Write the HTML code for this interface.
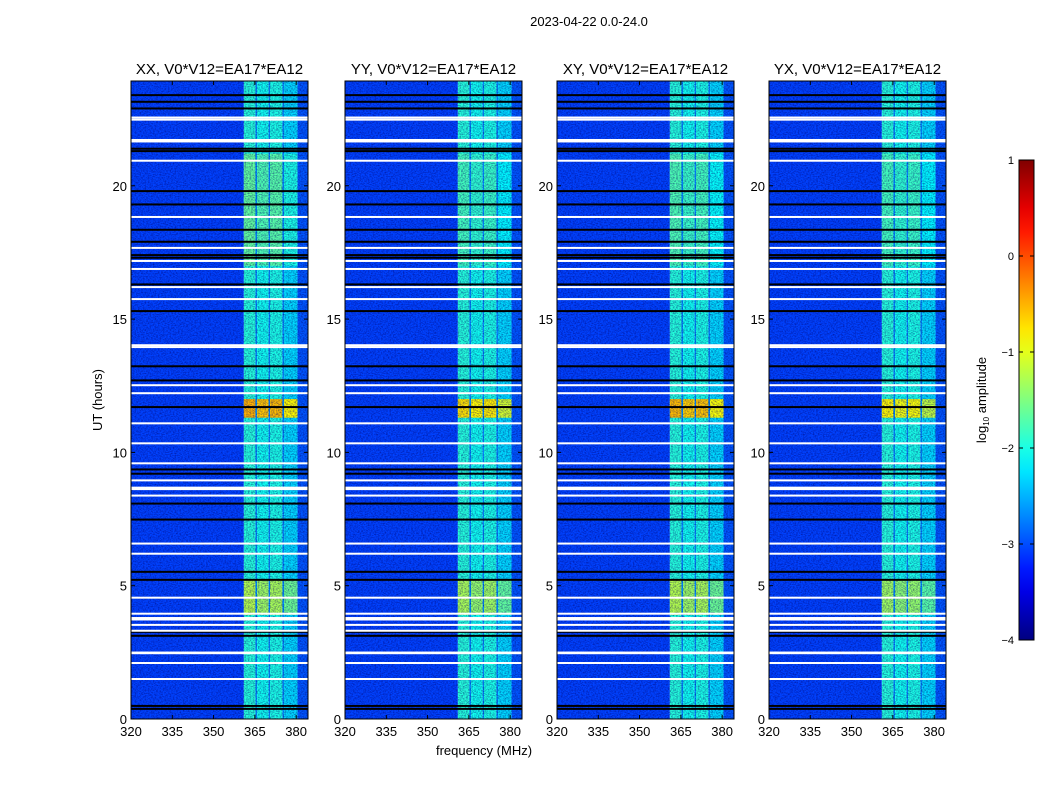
<!DOCTYPE html>
<html><head><meta charset="utf-8"><style>
body{margin:0;background:#fff;}
svg{display:block;font-family:"Liberation Sans",sans-serif;}
</style></head><body>
<svg id="fig" width="1050" height="800"></svg>
<script>
// ---- data ----
const panelTitles = ["XX, V0*V12=EA17*EA12","YY, V0*V12=EA17*EA12","XY, V0*V12=EA17*EA12","YX, V0*V12=EA17*EA12"];
const freqTicks = [320,335,350,365,380];
const timeTicks = [0,5,10,15,20];
const cbarTicks = [1,0,-1,-2,-3,-4];
// frequency segments (MHz edges) and their baseline log10 amplitude
const segEdges = [320,361,365.2,365.8,370,370.5,375,375.6,380.5,384.3];
const segAmp   = [-3.05,-1.95,-2.7,-2.05,-2.7,-2.0,-2.7,-2.3,-2.95];
// time intervals (hours) with amplitude boost inside the band, per panel
const hotStart = [11.3,3.9,17.0];
const hotEnd   = [12.0,5.2,21.2];
const hotBoost = [[1.45,0.7,0.3],[1.2,0.65,0.15],[1.4,0.7,0.2],[1.1,0.6,0.15]];
// flagged (white) rows: time, thickness (hours)
const flagT = [22.56,22.48,21.69,20.94,18.83,17.67,17.18,16.88,16.2,15.75,14.02,13.95,12.52,12.22,11.09,10.34,9.59,8.95,8.65,8.38,6.58,6.2,4.55,3.95,3.76,3.53,3.31,2.48,2.1,1.5];
const flagW = [0.04,0.04,0.13,0.04,0.04,0.04,0.04,0.04,0.04,0.04,0.04,0.04,0.06,0.04,0.04,0.04,0.04,0.04,0.13,0.04,0.04,0.04,0.04,0.04,0.13,0.04,0.04,0.1,0.04,0.06];
// dark (black) rows
const darkT = [23.4,23.15,22.9,21.39,21.3,19.8,19.3,18.35,17.9,17.4,17.3,16.3,15.3,13.23,12.7,11.7,9.36,9.2,8.08,7.48,5.52,5.22,3.27,3.12,0.49,0.38];

// ---- layout ----
const svg = document.getElementById('fig');
const NS = 'http://www.w3.org/2000/svg';
const panelX = [131,345,557,769], PW = 177, PT = 81, PB = 719;
const fMin = 320, fMax = 384.3, tMax = 23.93;
function mk(tag, attrs, parent){const e=document.createElementNS(NS,tag);for(const k in attrs)e.setAttribute(k,attrs[k]);(parent||svg).appendChild(e);return e;}
function jet(v){v=Math.max(0,Math.min(1,v));const c=x=>Math.round(255*Math.max(0,Math.min(1,x)));
  return `rgb(${c(1.5-Math.abs(4*v-3))},${c(1.5-Math.abs(4*v-2))},${c(1.5-Math.abs(4*v-1))})`;}
function amp2c(a){return jet((a+4)/5);}

const defs=mk('defs',{});
const flt=mk('filter',{id:'speckle',x:0,y:0,width:'100%',height:'100%'},defs);
mk('feTurbulence',{type:'fractalNoise',baseFrequency:'0.6 0.9',numOctaves:2,seed:3},flt);
mk('feColorMatrix',{type:'matrix',values:'0 0 0 0 0  0 0 0 0 0  0 0 0 0 0.15  1.2 0 0 0 -0.45'},flt);

mk('text',{x:589,y:26,'font-size':13,'text-anchor':'middle',}).textContent='2023-04-22 0.0-24.0';

panelX.forEach((px,pi)=>{
  const xs = f => px + (f-fMin)/(fMax-fMin)*PW;
  const ys = t => PB - t/tMax*(PB-PT);
  const g = mk('g',{});
  
  
  const clipId='clip'+pi;
  const cp=mk('clipPath',{id:clipId},defs); mk('rect',{x:px,y:PT,width:PW,height:PB-PT},cp);
  const body=mk('g',{'clip-path':`url(#${clipId})`},g);
  for(let s=0;s<segAmp.length;s++){
    const x0=xs(segEdges[s]), x1=xs(segEdges[s+1]);
    const r=mk('rect',{x:x0,y:PT,width:x1-x0,height:PB-PT,fill:amp2c(segAmp[s])},body);
    
    
    if(segAmp[s]>-2.6){
      for(let h=0;h<hotStart.length;h++){
        const a=segAmp[s]+hotBoost[pi][h];
        const hr=mk('rect',{x:x0,y:ys(hotEnd[h]),width:x1-x0,height:ys(hotStart[h])-ys(hotEnd[h]),fill:amp2c(a)},body);
        
        
      }
    }
  }
  mk('rect',{x:px,y:PT,width:PW,height:PB-PT,fill:'#000',filter:'url(#speckle)'},body);
  darkT.forEach(t=>{const r=mk('rect',{x:px,y:ys(t)-1,width:PW,height:2,fill:'#000'},body);
    });
  flagT.forEach((t,i)=>{const h=Math.max(2,flagW[i]/tMax*(PB-PT));const r=mk('rect',{x:px,y:ys(t)-h/2,width:PW,height:h,fill:'#fff'},body);
    });
  mk('rect',{x:px,y:PT,width:PW,height:PB-PT,fill:'none',stroke:'#000','stroke-width':1},g);
  freqTicks.forEach(f=>{const x=xs(f);
    mk('line',{x1:x,x2:x,y1:PB,y2:PB-4,stroke:'#000'},g);mk('line',{x1:x,x2:x,y1:PT,y2:PT+4,stroke:'#000'},g);
    const t=mk('text',{x:x,y:PB+17,'font-size':13,'text-anchor':'middle'},g);t.textContent=f;
    });
  timeTicks.forEach(v=>{const y=ys(v);
    mk('line',{x1:px,x2:px+4,y1:y,y2:y,stroke:'#000'},g);mk('line',{x1:px+PW,x2:px+PW-4,y1:y,y2:y,stroke:'#000'},g);
    const t=mk('text',{x:px-4,y:y+5,'font-size':13,'text-anchor':'end'},g);t.textContent=v;
    });
  const tt=mk('text',{x:px+PW/2,y:74,'font-size':15,'text-anchor':'middle'},g);tt.textContent=panelTitles[pi];
  
});

mk('text',{x:102,y:400,'font-size':13,'text-anchor':'middle',transform:'rotate(-90 102 400)',}).textContent='UT (hours)';
mk('text',{x:484,y:755,'font-size':13,'text-anchor':'middle',}).textContent='frequency (MHz)';

// colorbar
const CX=1019,CW=15,CT=160,CB=640;
const lg=mk('linearGradient',{id:'jetg',x1:0,y1:1,x2:0,y2:0},defs);
for(let i=0;i<=20;i++)mk('stop',{offset:i/20,'stop-color':jet(i/20)},lg);
mk('rect',{x:CX,y:CT,width:CW,height:CB-CT,fill:'url(#jetg)',stroke:'#000',});
cbarTicks.forEach(v=>{const y=CB-(v+4)/5*(CB-CT);
  mk('line',{x1:CX,x2:CX+4,y1:y,y2:y,stroke:'#000'});mk('line',{x1:CX+CW,x2:CX+CW-4,y1:y,y2:y,stroke:'#000'});
  const t=mk('text',{x:CX-5,y:y+4,'font-size':11,'text-anchor':'end'});t.textContent=(v<0?'\u2212'+(-v):v);
  });
const lt=mk('text',{x:986,y:400,'font-size':13,'text-anchor':'middle',transform:'rotate(-90 986 400)',});
lt.innerHTML='log<tspan font-size="8" dy="3">10</tspan><tspan dy="-3"> amplitude</tspan>';
</script>
</body></html>
